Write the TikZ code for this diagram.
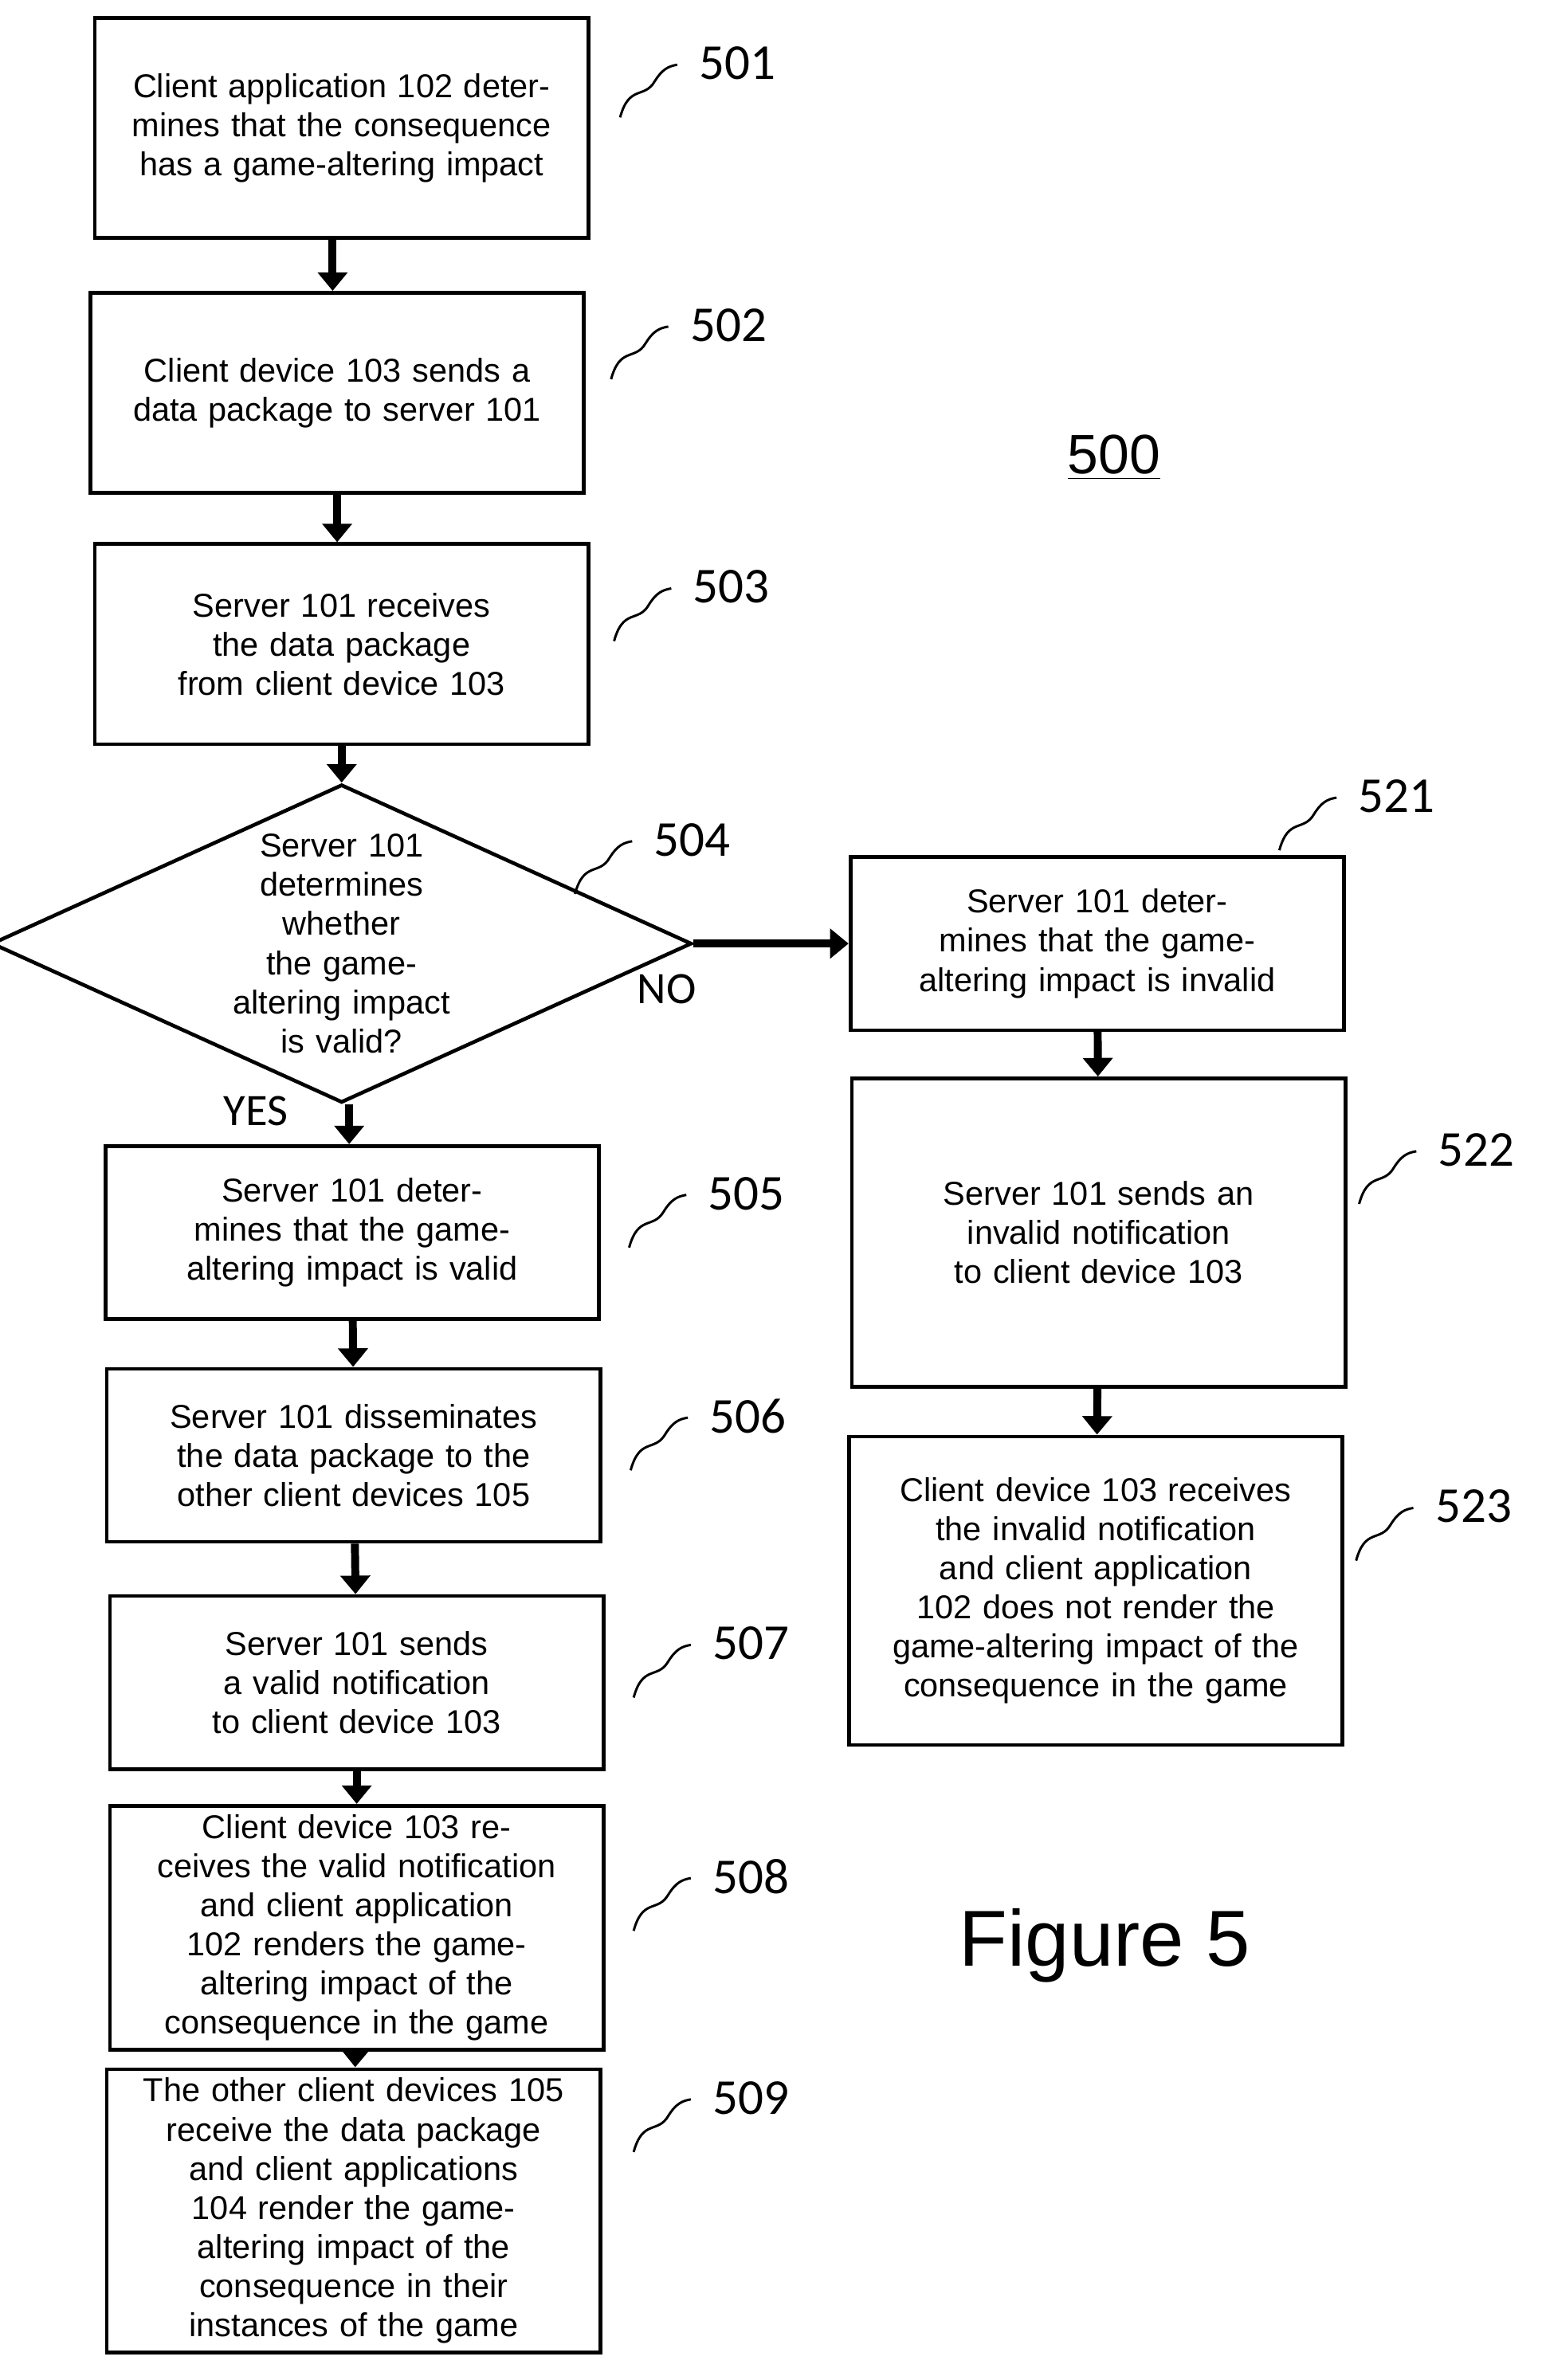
\documentclass[tikz,border=0pt]{standalone}
\usepackage{fontspec}
\setmainfont{Liberation Sans}
\newfontfamily\numfont{Carlito}
\usetikzlibrary{positioning, shapes.geometric, arrows.meta}
\tikzset{
    flowstep/.style={rectangle, draw=black, line width=1.4pt, text width=5.7cm, align=center, minimum width=6.56cm, font=\fontsize{12.5}{14.8}\selectfont},
    decision/.style={diamond, draw=black, line width=1.4pt, aspect=2.2, inner sep=0pt, minimum width=8.58cm, minimum height=3.9cm, text width=2.9cm, align=center, font=\fontsize{12.5}{14.8}\selectfont},
    refnum/.style={font=\numfont\fontsize{19}{22}\selectfont},
    flow/.style={-{Triangle[length=7pt, width=11pt]}, line width=3pt},
    squig/.style={line width=0.9pt}
}
\begin{document}
\begin{tikzpicture}[x=0.02cm, y=-0.02cm]
\useasboundingbox (0,0) rectangle (1024,1581.5);

% Main column
\node (s501) [flowstep, minimum height=2.92cm] at (227,85) {Client application 102 determines that the consequence has a game-altering impact};
\node (s502) [flowstep, minimum height=2.66cm] at (224,261) {Client device 103 sends a data package to server 101};
\node (s503) [flowstep, minimum height=2.66cm] at (227,428) {Server 101 receives the data package from client device 103};
\node (s504) [decision] at (227,627) {Server 101 determines whether the game-altering impact is valid?};
\node (s505) [flowstep, minimum height=2.3cm] at (234,819) {Server 101 determines that the game-altering impact is valid};
\node (s506) [flowstep, minimum height=2.3cm] at (235,967) {Server 101 disseminates the data package to the other client devices 105};
\node (s507) [flowstep, minimum height=2.3cm] at (237,1118) {Server 101 sends a valid notification to client device 103};
\node (s508) [flowstep, minimum height=2.66cm] at (237,1281) {Client device 103 receives the valid notification and client application 102 renders the game-altering impact of the consequence in the game};
\node (s509) [flowstep, minimum height=3.48cm] at (235,1469) {The other client devices 105 receive the data package and client applications 104 render the game-altering impact of the consequence in their instances of the game};

% Invalid branch
\node (s521) [flowstep, minimum height=2.3cm] at (729,627) {Server 101 determines that the game-altering impact is invalid};
\node (s522) [flowstep, minimum height=4.1cm] at (730,819) {Server 101 sends an invalid notification to client device 103};
\node (s523) [flowstep, minimum height=4.1cm] at (728,1057) {Client device 103 receives the invalid notification and client application 102 does not render the game-altering impact of the consequence in the game};

% Arrows
\draw[flow] (s501.south -| 221,0) -- (s502.north -| 221,0);
\draw[flow] (s502.south) -- (s503.north -| s502.south);
\draw[flow] (s503.south) -- (s504.north);
\draw[flow] (s504.south -| 232,0) -- (s505.north -| 232,0);
\draw[flow] (s505) -- (s506);
\draw[flow] (s506) -- (s507);
\draw[flow] (s507) -- (s508);
\draw[flow] (s508) -- (s509);
\draw[flow] (s504.east) -- (s521.west);
\draw[flow] (s521) -- (s522);
\draw[flow] (s522) -- (s523);

\node (no) [font=\numfont\fontsize{17}{20}\selectfont] at (443,657) {NO};
\node (yes) [font=\numfont\fontsize{17}{20}\selectfont] at (170,738) {YES};

% Reference numerals
\foreach \name/\x/\y in {501/490/42, 502/484/216, 503/486/390, 504/460/558, 505/496/793,
    506/497/941, 507/499/1092, 508/499/1247, 509/499/1394, 521/928/529, 522/981/764, 523/979/1001}{
  \node (r\name) [refnum] at (\x,\y) {\name};
  \draw[squig] (\x-78,\y+36) .. controls (\x-72,\y+14) and (\x-62,\y+24) .. (\x-55,\y+12)
               .. controls (\x-50,\y+4) and (\x-46,\y+2) .. (\x-40,\y+1);
}

\node (fig) [font=\fontsize{21}{25}\selectfont] at (740,304) {\underline{500}};
\node (caption) [font=\fontsize{30}{36}\selectfont] at (734,1293) {Figure 5};
\end{tikzpicture}
\end{document}
